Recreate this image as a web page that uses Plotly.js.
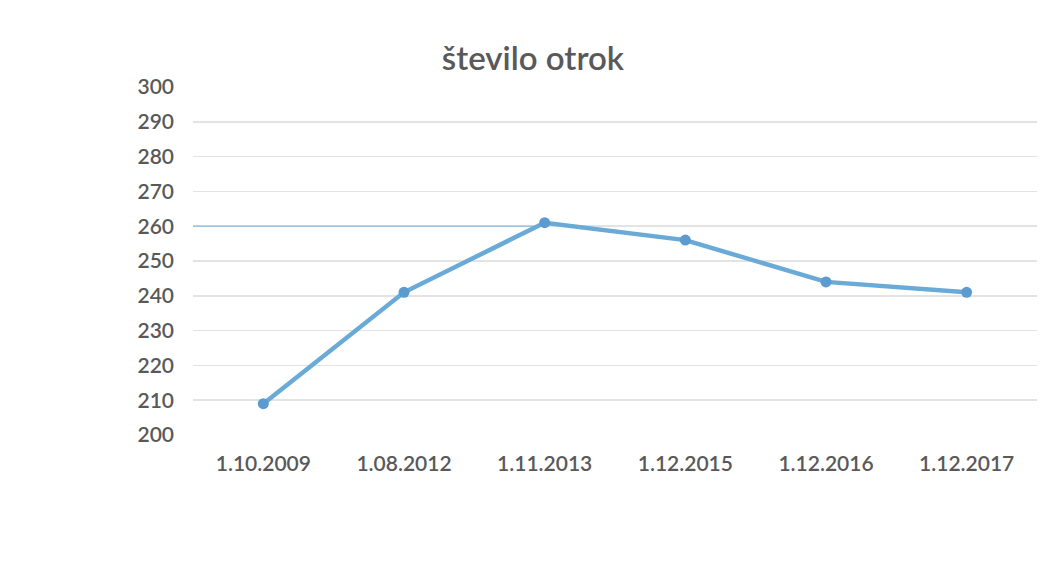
<!DOCTYPE html>
<html>
<head>
<meta charset="utf-8">
<script src="https://cdn.plot.ly/plotly-3.0.1.min.js"></script>
<style>html,body{margin:0;padding:0;background:#fff;}#chart{width:1043px;height:582px;}</style>
</head>
<body>
<div id="chart"></div>
<script>
const categories = ["1.10.2009", "1.08.2012", "1.11.2013", "1.12.2015", "1.12.2016", "1.12.2017"];
const children = [209, 241, 261, 256, 244, 241];
const yTicks = [200, 210, 220, 230, 240, 250, 260, 270, 280, 290, 300];
const chartTitle = "število otrok";
const refLineValue = 260;

const trace = {
  x: categories,
  y: children,
  type: 'scatter',
  mode: 'lines+markers',
  line: {color: '#6aaad6', width: 4.5},
  marker: {color: '#5b9bd0', size: 11},
  hoverinfo: 'x+y'
};

const layout = {
  width: 1043, height: 582,
  paper_bgcolor: '#ffffff', plot_bgcolor: '#ffffff',
  margin: {l: 193, r: 6, t: 87, b: 147},
  title: {text: chartTitle, x: 0.511, xanchor: 'center', y: 0.9, yanchor: 'middle',
          font: {family: 'Lato, "Open Sans", sans-serif', size: 33, color: '#595959', weight: 600}},
  showlegend: false,
  xaxis: {
    type: 'category', range: [-0.5, categories.length - 0.5], autorange: false,
    showgrid: false, zeroline: false, showline: false,
    ticks: '', ticklabelstandoff: 14,
    tickfont: {family: 'Lato, "Open Sans", sans-serif', size: 21, color: '#595959', weight: 600}
  },
  yaxis: {
    range: [200, 300], tickvals: yTicks,
    showgrid: true, gridcolor: '#e3e3e3', gridwidth: 1.5,
    zeroline: false, showline: false, ticks: '', ticklabelstandoff: 18,
    tickfont: {family: 'Lato, "Open Sans", sans-serif', size: 21, color: '#595959', weight: 600}
  },
  shapes: [{
    type: 'line', xref: 'x', yref: 'y', layer: 'between',
    x0: -0.5, x1: 2, y0: refLineValue, y1: refLineValue,
    line: {color: '#9cc3e2', width: 1.5}
  }]
};

Plotly.newPlot('chart', [trace], layout, {displayModeBar: false, staticPlot: true});
</script>
</body>
</html>
